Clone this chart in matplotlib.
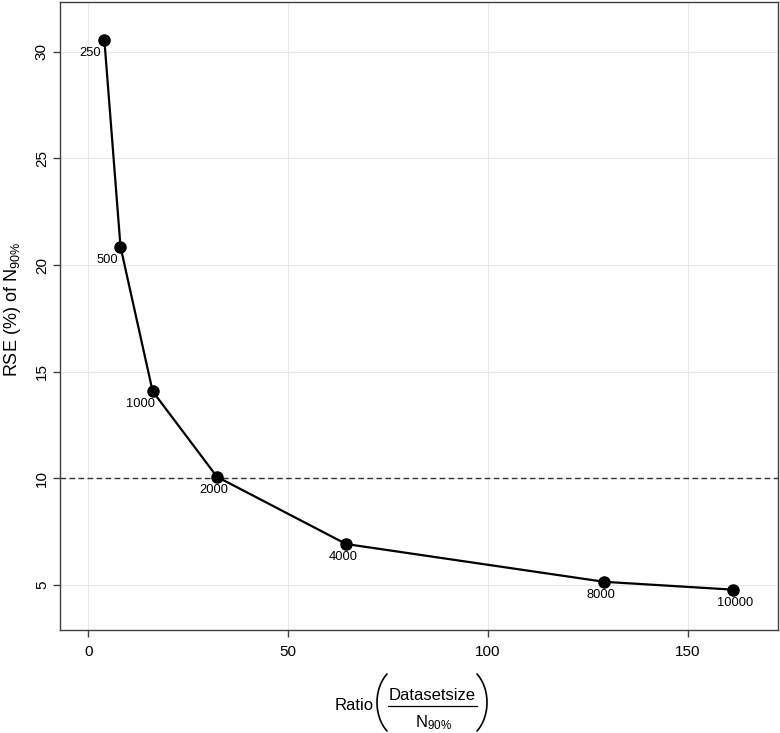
import matplotlib
matplotlib.use("Agg")
import matplotlib.pyplot as plt
from matplotlib.lines import Line2D
import numpy as np

plt.rcParams['font.family'] = ['Liberation Sans', 'DejaVu Sans']
plt.rcParams['mathtext.fontset'] = 'custom'
plt.rcParams['mathtext.rm'] = 'Liberation Sans'
plt.rcParams['mathtext.it'] = 'Liberation Sans:italic'
plt.rcParams['mathtext.bf'] = 'Liberation Sans:bold'

# Data
dataset_sizes = [250, 500, 1000, 2000, 4000, 8000, 10000]
ratio = [4.03, 8.06, 16.1, 32.2, 64.5, 129.0, 161.3]
rse = [30.54, 20.86, 14.08, 10.07, 6.92, 5.15, 4.78]
threshold = 10
xticks = [0, 50, 100, 150]
yticks = [5, 10, 15, 20, 25, 30]

# label offsets in pixels (dx right, dy down) - style only
label_offsets_px = [(-14, 13), (-13, 13), (-12.5, 12.5), (-3, 13), (-3, 13), (-3, 13.4), (1.5, 13)]

W, H = 780, 733
fig = plt.figure(figsize=(W / 100, H / 100), dpi=100)
ax = fig.add_axes([60 / W, 1 - 630 / H, (778 - 60) / W, (630 - 2) / H])


def px(x, y):
    return x / W, 1 - y / H


ax.axhline(threshold, color='#333333', linestyle=(0, (4, 2.5)), linewidth=1.0, zorder=2)
ax.plot(ratio, rse, color='black', linewidth=1.6, marker='o', markersize=8, zorder=3)

for x, y, lab, (dx, dy) in zip(ratio, rse, dataset_sizes, label_offsets_px):
    ax.annotate(str(lab), (x, y), xytext=(dx * 0.72, -dy * 0.72), textcoords='offset points',
                ha='center', va='center', fontsize=9.3, color='black')

ax.set_xlim(-7.07, 172.5)
ax.set_ylim(2.89, 32.33)
ax.set_xticks(xticks)
ax.set_yticks(yticks)
ax.grid(True, color='#e8e8e8', linewidth=0.8, zorder=0)
ax.set_axisbelow(True)

for s in ax.spines.values():
    s.set_color('#404040')
    s.set_linewidth(1.0)

ax.tick_params(axis='both', direction='out', length=5, width=1, color='#404040', labelsize=11)
ax.tick_params(axis='x', pad=6)
ax.tick_params(axis='y', pad=3, labelrotation=90)
for t in ax.get_yticklabels():
    t.set_va('center')

ax.set_ylabel(r"RSE (%) of N$_{90\%}$", fontsize=13)
ax.yaxis.set_label_coords(-0.052, 0.51)

# x-axis label: Ratio ( Datasetsize / N90% )
fig.text(*px(354.5, 709.5), "Ratio", ha='center', va='baseline', fontsize=12)
fig.text(*px(432.5, 700), "Datasetsize", ha='center', va='baseline', fontsize=12)
fig.text(*px(433.5, 727), r"N$_{90\%}$", ha='center', va='baseline', fontsize=12)
fig.add_artist(Line2D([388 / W, 477 / W], [1 - 706 / H, 1 - 706 / H], transform=fig.transFigure,
                      color='black', linewidth=0.9))

# parentheses drawn as elliptic arcs (pixel geometry)
th0 = np.deg2rad(50)
a = 10 / (1 - np.cos(th0))
b = 28.5 / np.sin(th0)
cy = 702.5
th = np.linspace(-th0, th0, 60)
lx = (377 + a) - a * np.cos(th)
rx = (487 - a) + a * np.cos(th)
yy = cy + b * np.sin(th)
for xs in (lx, rx):
    fig.add_artist(Line2D(xs / W, 1 - yy / H, transform=fig.transFigure,
                          color='black', linewidth=1.2, solid_capstyle='round'))

fig.savefig("out.png", dpi=100)
